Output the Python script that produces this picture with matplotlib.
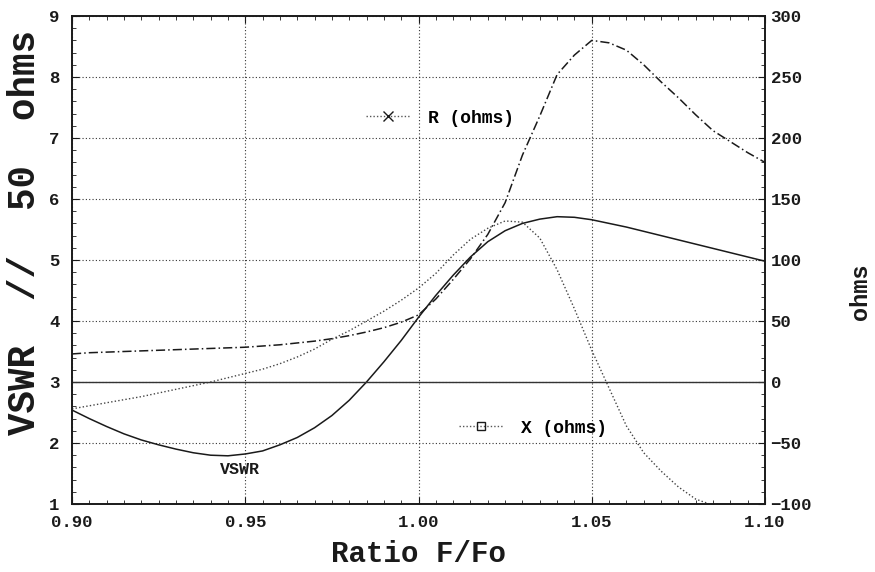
import numpy as np
import matplotlib
matplotlib.use("Agg")
import matplotlib.pyplot as plt
from matplotlib.lines import Line2D
from matplotlib.ticker import MultipleLocator

# frequency ratio F/Fo
freq = [0.900, 0.905, 0.910, 0.915, 0.920, 0.925, 0.930, 0.935, 0.940, 0.945,
        0.950, 0.955, 0.960, 0.965, 0.970, 0.975, 0.980, 0.985, 0.990, 0.995,
        1.000, 1.005, 1.010, 1.015, 1.020, 1.025, 1.030, 1.035, 1.040, 1.045,
        1.050, 1.055, 1.060, 1.065, 1.070, 1.075, 1.080, 1.085, 1.090, 1.095,
        1.100]
# VSWR relative to 50 ohms (left axis)
vswr = [2.54, 2.40, 2.27, 2.15, 2.05, 1.97, 1.90, 1.84, 1.80, 1.79,
        1.82, 1.87, 1.97, 2.09, 2.25, 2.45, 2.70, 3.00, 3.33, 3.68,
        4.06, 4.42, 4.75, 5.05, 5.30, 5.48, 5.60, 5.67, 5.71, 5.70,
        5.66, 5.60, 5.54, 5.47, 5.40, 5.33, 5.26, 5.19, 5.12, 5.05,
        4.98]
# resistance R (ohms, right axis)
r_ohms = [23, 24, 24.5, 25, 25.5, 26, 26.5, 27, 27.5, 28,
          28.5, 29.5, 30.5, 32, 33.5, 35.5, 38, 41, 44.5, 49,
          55, 68, 84, 101, 121, 147, 186, 218, 252, 268,
          280, 278, 272, 260, 246, 233, 219, 206, 197, 188,
          180]
# reactance X (ohms, right axis)
x_ohms = [-22, -19.5, -17, -14.5, -12, -9, -6, -3, 0, 3.5,
          7, 10.5, 15, 20.5, 27, 35, 42, 50, 58, 67,
          77, 89, 104, 117, 126, 132, 131, 118, 92, 60,
          26, -5, -36, -58, -73, -86, -96, -101, -105, -108,
          -110]

xticks = [0.90, 0.95, 1.00, 1.05, 1.10]
xticklabels = ["0.90", "0.95", "1.00", "1.05", "1.10"]

mono = "Liberation Mono"
ink = "#1a1a1a"

fig = plt.figure(figsize=(8.75, 5.72), dpi=100)
ax = fig.add_axes([72/875, 1-504/572, (765-72)/875, (504-16)/572])
ax2 = ax.twinx()

ax.plot(freq, vswr, color=ink, lw=1.1, ls="-")
ax2.plot(freq, r_ohms, color=ink, lw=1.1, ls=(0, (6, 2, 1, 2)))
ax2.plot(freq, x_ohms, color="#444444", lw=1.0, ls=(0, (1, 1.6)))

ax.set_xlim(0.90, 1.10)
ax.set_ylim(1, 9)
ax2.set_ylim(-100, 300)

ax.set_xticks(xticks)
ax.set_xticklabels(xticklabels)
ax.xaxis.set_minor_locator(MultipleLocator(0.005))
ax.yaxis.set_minor_locator(MultipleLocator(0.2))
ax2.yaxis.set_major_locator(MultipleLocator(50))
ax2.yaxis.set_minor_locator(MultipleLocator(10))

ax.grid(True, which="major", color="#333333", ls=(0, (1, 2)), lw=0.8)
ax2.axhline(0, color="#333333", lw=1.0)

ax.tick_params(axis="both", which="both", direction="in", top=True, colors=ink)
ax.tick_params(which="major", length=5)
ax.tick_params(which="minor", length=3)
ax2.tick_params(which="both", direction="in", colors=ink)
ax2.tick_params(which="major", length=5)
ax2.tick_params(which="minor", length=3)
for a in (ax, ax2):
    for s in a.spines.values():
        s.set_color(ink)
        s.set_linewidth(1.2)
    for lab in a.get_xticklabels() + a.get_yticklabels():
        lab.set_fontfamily(mono)
        lab.set_fontweight("bold")
        lab.set_fontsize(12.5)
ax.tick_params(axis="x", pad=8)
ax.tick_params(axis="y", pad=9)
ax2.tick_params(axis="y", pad=4)

ax.set_xlabel("Ratio F/Fo", fontfamily=mono, fontweight="bold", fontsize=21,
              color=ink, labelpad=7)
fig.text(25/875, 1-233/572, "VSWR  //  50  ohms", rotation=90, ha="center",
         va="center", fontfamily=mono, fontweight="bold", fontsize=27, color=ink)
fig.text(861/875, 1-292/572, "ohms", rotation=90, ha="center", va="center",
         fontfamily=mono, fontweight="bold", fontsize=17, color=ink)

ax.text(0.9485, 1.57, "VSWR", ha="center", va="center", fontfamily=mono,
        fontweight="bold", fontsize=12, color=ink)

r_handle = Line2D([], [], color="#555555", ls=(0, (1, 1.5)), lw=1.0,
                  marker="x", markersize=7, markeredgecolor=ink)
x_handle = Line2D([], [], color="#555555", ls=(0, (1, 1.5)), lw=1.0,
                  marker="s", markersize=6, markerfacecolor="none",
                  markeredgecolor=ink)
leg_r = ax2.legend([r_handle], ["R (ohms)"], loc="center left",
                   bbox_to_anchor=((350-72)/693, 1-(118-16)/488),
                   frameon=False, handlelength=2.4, handletextpad=1.0,
                   prop={"family": mono, "weight": "bold", "size": 13})
ax2.add_artist(leg_r)
ax2.legend([x_handle], ["X (ohms)"], loc="center left",
           bbox_to_anchor=((443-72)/693, 1-(428-16)/488),
           frameon=False, handlelength=2.4, handletextpad=1.0,
           prop={"family": mono, "weight": "bold", "size": 13})

fig.savefig("out.png", dpi=100, facecolor="white")
